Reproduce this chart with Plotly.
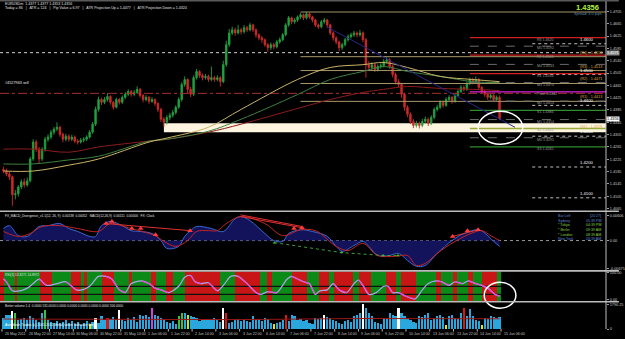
import plotly.graph_objects as go

# ======================= DATA =======================
# EURUSD, 2-hour bars starting 26 May 2011 06:00
opens = [1.4192,1.4187,1.4177,1.4168,1.4110,1.4113,1.4135,1.4152,1.4142,1.4155,
         1.4226,1.4281,1.4258,1.4226,1.4258,1.4290,1.4297,1.4313,1.4323,1.4329,
         1.4306,1.4290,1.4300,1.4290,1.4297,1.4284,1.4281,1.4287,1.4290,1.4297,
         1.4313,1.4339,1.4387,1.4419,1.4410,1.4419,1.4429,1.4410,1.4394,1.4419,
         1.4410,1.4426,1.4436,1.4445,1.4436,1.4442,1.4452,1.4432,1.4419,1.4426,
         1.4413,1.4419,1.4406,1.4387,1.4355,1.4345,1.4361,1.4368,1.4377,1.4394,
         1.4419,1.4468,1.4484,1.4452,1.4436,1.4490,1.4510,1.4497,1.4490,1.4494,
         1.4484,1.4490,1.4484,1.4490,1.4477,1.4532,1.4597,1.4635,1.4645,1.4635,
         1.4645,1.4639,1.4652,1.4645,1.4661,1.4645,1.4629,1.4619,1.4613,1.4597,
         1.4587,1.4597,1.4590,1.4606,1.4613,1.4629,1.4661,1.4684,1.4671,1.4677,
         1.4687,1.4694,1.4684,1.4697,1.4687,1.4677,1.4661,1.4655,1.4671,1.4677,
         1.4661,1.4635,1.4619,1.4606,1.4587,1.4597,1.4613,1.4623,1.4629,1.4635,
         1.4629,1.4635,1.4613,1.4532,1.4523,1.4532,1.4516,1.4526,1.4529,1.4542,
         1.4548,1.4526,1.4500,1.4477,1.4468,1.4436,1.4394,1.4371,1.4348,1.4335,
         1.4342,1.4335,1.4348,1.4355,1.4342,1.4361,1.4387,1.4394,1.4410,1.4400,
         1.4419,1.4426,1.4413,1.4432,1.4445,1.4458,1.4452,1.4471,1.4484,1.4477,
         1.4484,1.4458,1.4445,1.4436,1.4426,1.4432,1.4419,1.4426]
highs = [1.4201,1.4195,1.4185,1.4172,1.4125,1.4141,1.4160,1.4163,1.4166,1.4233,
         1.4290,1.4288,1.4265,1.4264,1.4298,1.4306,1.4320,1.4330,1.4345,1.4334,
         1.4312,1.4308,1.4306,1.4304,1.4302,1.4291,1.4294,1.4297,1.4303,1.4320,
         1.4346,1.4396,1.4428,1.4425,1.4427,1.4440,1.4433,1.4414,1.4425,1.4424,
         1.4432,1.4443,1.4452,1.4450,1.4450,1.4462,1.4456,1.4437,1.4433,1.4430,
         1.4427,1.4423,1.4410,1.4392,1.4362,1.4368,1.4376,1.4385,1.4400,1.4426,
         1.4475,1.4494,1.4488,1.4460,1.4497,1.4518,1.4514,1.4503,1.4502,1.4500,
         1.4526,1.4496,1.4498,1.4495,1.4545,1.4610,1.4648,1.4655,1.4652,1.4661,
         1.4652,1.4661,1.4658,1.4668,1.4665,1.4650,1.4634,1.4625,1.4617,1.4602,
         1.4604,1.4603,1.4612,1.4620,1.4635,1.4667,1.4690,1.4688,1.4683,1.4692,
         1.4700,1.4698,1.4703,1.4701,1.4691,1.4681,1.4666,1.4677,1.4684,1.4681,
         1.4665,1.4640,1.4624,1.4610,1.4603,1.4619,1.4630,1.4636,1.4642,1.4640,
         1.4645,1.4640,1.4618,1.4543,1.4540,1.4537,1.4533,1.4536,1.4550,1.4556,
         1.4553,1.4531,1.4506,1.4485,1.4473,1.4441,1.4400,1.4377,1.4355,1.4350,
         1.4348,1.4356,1.4364,1.4360,1.4368,1.4393,1.4402,1.4417,1.4415,1.4426,
         1.4433,1.4430,1.4438,1.4452,1.4466,1.4465,1.4478,1.4490,1.4490,1.4494,
         1.4489,1.4463,1.4450,1.4440,1.4438,1.4436,1.4432,1.4432]
lows = [1.4180,1.4170,1.4158,1.4074,1.4095,1.4104,1.4128,1.4133,1.4136,1.4150,
        1.4220,1.4249,1.4212,1.4219,1.4250,1.4282,1.4290,1.4305,1.4316,1.4298,
        1.4280,1.4283,1.4282,1.4284,1.4277,1.4273,1.4276,1.4280,1.4284,1.4292,
        1.4308,1.4333,1.4380,1.4401,1.4404,1.4412,1.4402,1.4386,1.4390,1.4403,
        1.4405,1.4420,1.4430,1.4428,1.4430,1.4437,1.4425,1.4410,1.4413,1.4405,
        1.4408,1.4398,1.4378,1.4346,1.4330,1.4338,1.4352,1.4360,1.4370,1.4389,
        1.4412,1.4460,1.4440,1.4427,1.4430,1.4484,1.4489,1.4481,1.4484,1.4476,
        1.4478,1.4476,1.4478,1.4461,1.4472,1.4525,1.4590,1.4628,1.4626,1.4630,
        1.4630,1.4633,1.4638,1.4640,1.4638,1.4620,1.4611,1.4603,1.4590,1.4574,
        1.4580,1.4582,1.4585,1.4600,1.4608,1.4624,1.4655,1.4664,1.4665,1.4671,
        1.4680,1.4677,1.4679,1.4681,1.4669,1.4654,1.4648,1.4650,1.4665,1.4652,
        1.4628,1.4610,1.4598,1.4576,1.4580,1.4591,1.4607,1.4617,1.4622,1.4621,
        1.4623,1.4605,1.4490,1.4512,1.4515,1.4508,1.4510,1.4519,1.4523,1.4536,
        1.4518,1.4491,1.4468,1.4459,1.4425,1.4383,1.4362,1.4339,1.4326,1.4328,
        1.4325,1.4329,1.4341,1.4333,1.4336,1.4355,1.4380,1.4388,1.4392,1.4395,
        1.4412,1.4405,1.4408,1.4427,1.4440,1.4445,1.4447,1.4465,1.4468,1.4472,
        1.4452,1.4438,1.4428,1.4418,1.4420,1.4411,1.4414,1.4352]
closes = [1.4187,1.4177,1.4168,1.4110,1.4113,1.4135,1.4152,1.4142,1.4155,1.4226,
          1.4281,1.4258,1.4226,1.4258,1.4290,1.4297,1.4313,1.4323,1.4329,1.4306,
          1.4290,1.4300,1.4290,1.4297,1.4284,1.4281,1.4287,1.4290,1.4297,1.4313,
          1.4339,1.4387,1.4419,1.4410,1.4419,1.4429,1.4410,1.4394,1.4419,1.4410,
          1.4426,1.4436,1.4445,1.4436,1.4442,1.4452,1.4432,1.4419,1.4426,1.4413,
          1.4419,1.4406,1.4387,1.4355,1.4345,1.4361,1.4368,1.4377,1.4394,1.4419,
          1.4468,1.4484,1.4452,1.4436,1.4490,1.4510,1.4497,1.4490,1.4494,1.4484,
          1.4490,1.4484,1.4490,1.4477,1.4532,1.4597,1.4635,1.4645,1.4635,1.4645,
          1.4639,1.4652,1.4645,1.4661,1.4645,1.4629,1.4619,1.4613,1.4597,1.4587,
          1.4597,1.4590,1.4606,1.4613,1.4629,1.4661,1.4684,1.4671,1.4677,1.4687,
          1.4694,1.4684,1.4697,1.4687,1.4677,1.4661,1.4655,1.4671,1.4677,1.4661,
          1.4635,1.4619,1.4606,1.4587,1.4597,1.4613,1.4623,1.4629,1.4635,1.4629,
          1.4635,1.4613,1.4532,1.4523,1.4532,1.4516,1.4526,1.4529,1.4542,1.4548,
          1.4526,1.4500,1.4477,1.4468,1.4436,1.4394,1.4371,1.4348,1.4335,1.4342,
          1.4335,1.4348,1.4355,1.4342,1.4361,1.4387,1.4394,1.4410,1.4400,1.4419,
          1.4426,1.4413,1.4432,1.4445,1.4458,1.4452,1.4471,1.4484,1.4477,1.4484,
          1.4458,1.4445,1.4436,1.4426,1.4432,1.4419,1.4426,1.4356]
bar_idx = list(range(len(closes)))

x_label_bars = [0,8,16,24,32,40,48,56,64,72,80,88,96,104,112,120,128,136,144,152,160,168]
x_labels = ["26 May 2011","26 May 22:00","27 May 14:00","30 May 06:00","30 May 22:00",
            "31 May 14:00","1 Jun 06:00","1 Jun 22:00","2 Jun 14:00","3 Jun 06:00",
            "3 Jun 22:00","6 Jun 14:00","7 Jun 06:00","7 Jun 22:00","8 Jun 14:00",
            "9 Jun 06:00","9 Jun 22:00","10 Jun 14:00","13 Jun 06:00","13 Jun 22:00",
            "14 Jun 14:00","15 Jun 06:00"]

price_ticks = [1.4705,1.4665,1.4625,1.4585,1.4545,1.4505,1.4465,1.4425,1.4385,
               1.4345,1.4305,1.4265,1.4225,1.4185,1.4145,1.4105,1.4065]

# moving averages
ma_bars = [0,10,22,32,49,55,69,80,99,110,121,128,136,147,158,167]
ma_gold = [1.4187,1.4187,1.4206,1.4226,1.4281,1.4294,1.4329,1.4387,1.4484,1.4523,1.4532,1.4539,1.4523,1.4494,1.4484,1.4477]
ma_green = [1.4210,1.4210,1.4223,1.4235,1.4284,1.4290,1.4316,1.4355,1.4435,1.4484,1.4510,1.4526,1.4510,1.4494,1.4477,1.4474]
ma_maroon = [1.4258,1.4258,1.4248,1.4265,1.4284,1.4290,1.4313,1.4339,1.4390,1.4419,1.4442,1.4452,1.4461,1.4455,1.4452,1.4448]

# pivot levels (daily)
pivot_names = ["R3","M5","R2","M4","R1","M3","Pivot","M2","S1","M1","S2","M0","S3"]
pivot_prices = [1.4620,1.4592,1.4563,1.4533,1.4503,1.4474,1.4444,1.4414,1.4384,1.4354,1.4325,1.4295,1.4265]
pivot_start_bar = 157

# S/R zone lines (tan)
zone_line_prices = [1.4703,1.4558,1.4513,1.4471,1.4413]
zone_line_names = ["","(R4)","(R3)","(R2)","(R1)"]
zone_start_bar = 100
sr_box_low, sr_box_high, sr_box_start = 1.4313, 1.4342, 54
sr_box_name = "(S1)"
sr_box_mid = 1.4329

round_levels = [1.4600,1.4500,1.4400,1.4300,1.4200,1.4100]
round_start_bar = 178

order_price = 1.4439
order_label = "#4527963 sell"
dotted_level = 1.4571
bid_price = 1.4356

trend_bars = [108.8,172.2]
trend_prices = [1.4655,1.4329]

circle_bars = [159.8,174.8]
circle_prices = [1.4274,1.4381]

# MACD
macd_bars = [0,2,5,8,12,15,19,22,25,29,31,33,36,40,43,46,50,53,55,59,61,63,65,70,74,78,80,83,88,91,
             94,96,100,104,109,112,114,118,121,123,126,130,133,136,139,142,146,151,155,160,163,165,167]
macd_vals = [0.0029,0.0036,0.0012,0.0010,0.0034,0.0036,0.0041,0.0029,0.0022,0.0010,
             0.0010,0.0036,0.0046,0.0036,0.0024,0.0022,0.0017,0.0000,-0.0019,-0.0014,
             0.0010,0.0024,0.0034,0.0029,0.0022,0.0053,0.0058,0.0048,0.0017,0.0000,
             -0.0002,0.0017,0.0026,0.0022,0.0010,-0.0014,-0.0026,-0.0012,-0.0002,-0.0014,
             -0.0036,-0.0036,-0.0031,-0.0048,-0.0062,-0.0060,-0.0031,0.0000,0.0017,0.0026,
             0.0012,-0.0002,-0.0014]
signal_bars = [0,5,9,13,19,25,32,36,43,51,54,58,62,65,69,72,75,80,88,94,
               100,105,112,116,121,126,132,136,139,142,146,152,158,161,164,167]
signal_vals = [0.0022,0.0010,0.0017,0.0034,0.0036,0.0029,0.0022,0.0041,0.0029,0.0012,
               -0.0002,-0.0014,0.0000,0.0022,0.0024,0.0024,0.0041,0.0058,0.0041,0.0012,
               0.0026,0.0024,-0.0014,-0.0024,-0.0007,-0.0036,-0.0038,-0.0036,-0.0060,-0.0055,
               -0.0031,-0.0002,0.0019,0.0024,0.0012,0.0000]
div_bars = [34.5,36.5,43.2,46.2,51.2,62.8,97.8,100.5,151.2,156.2,159.8]
div_vals = [0.0041,0.0046,0.0029,0.0029,0.0014,0.0024,0.0029,0.0031,0.0010,0.0024,0.0026]
div_lines = [([34.5,62.8],[0.0041,0.0024]),([79.8,100.5],[0.0058,0.0031]),
             ([79.8,100.5],[0.0062,0.0034]),([151.2,159.8],[0.0010,0.0026])]
bull_bars = [91.2,113.8,127.8,132.8]
bull_vals = [-0.0005,-0.0029,-0.0036,-0.0036]

clock_rows = [("Bar Left","[20:27]","blue"),("Sydney","05:39 PM","blue"),
              ("* Tokyo","04:39 PM","green"),("* Berlin","09:39 AM","green"),
              ("* London","08:39 AM","green"),("New York","03:39 AM","blue")]

# RSI(3)
rsi_bars = [0,1,3,5.5,8,10,12,14.5,18,21,24.5,26.5,29,32,34.5,36.5,39,41,43,46.5,
            49,51,53,55.5,59,61,63,64.5,66.5,69,72,74.5,76.5,79,82,85,86.5,89,92,95.5,
            97,99,101,103,105,106.5,109,111,113,115.5,118,119.5,121,123,125.5,128,129.5,131,133,135.5,
            138.5,141,143,145.5,147.5,150,152,154.5,156.5,159,161,163,165.5,167]
rsi_vals = [76.7,66.7,33.3,33.3,43.3,60,76.7,53.3,60,66.7,36.7,36.7,50,86.7,86.7,76.7,36.7,26.7,60,70,
            60,43.3,36.7,26.7,50,83.3,90,66.7,60,63.3,33.3,60,86.7,86.7,60,26.7,20,30,26.7,76.7,
            86.7,76.7,66.7,60,20,33.3,36.7,60,36.7,26.7,60,73.3,53.3,20,26.7,50,50,26.7,26.7,13.3,
            3.3,36.7,60,70,66.7,53.3,66.7,60,70,60,53.3,43.3,20,14]
rsi_levels = [50,20]
band_edges = [-1.2,0.2,3.8,4.5,12.2,16.5,22.8,26.2,27.2,28.2,33.2,37.2,42.2,43.2,49.8,51.2,54.8,57.2,61.2,
              72.8,77.8,86.2,88.8,90.5,97.2,102.2,106.2,109.5,111.2,117.8,119.8,123.8,128.8,132.2,133.8,
              138.8,145.5,147.2,151.2,152.8,156.5,158.2,161.2,166.2,167.5]
band_trend = ["down","up","down","up","down","up","down","up","down","up","down","up","down","up","down",
              "up","down","up","down","up","down","up","down","up","down","up","down","up","down","up",
              "down","up","down","up","down","up","down","up","down","up","down","up","down","up"]

# Better Volume
vols = [790,1000,1000,1290,1150,640,720,790,640,930,
        790,640,500,1150,1360,640,500,430,570,430,
        500,640,430,570,360,500,290,430,570,360,
        500,790,430,930,640,790,720,860,640,1360,
        640,570,790,640,860,500,1000,930,1000,860,
        1500,1000,930,790,640,500,430,570,360,930,
        1150,1150,1000,930,860,790,570,640,720,640,
        720,790,640,500,1500,1150,430,500,640,720,
        570,640,570,500,930,640,720,570,790,720,
        430,360,430,500,640,1000,570,1000,930,640,
        720,570,640,430,360,790,720,790,1000,860,
        790,640,570,430,360,570,640,500,930,1000,
        1150,1780,1500,1150,930,500,430,360,790,720,
        1150,1000,930,1500,1150,930,720,640,500,430,
        930,860,1000,1150,640,720,930,1000,860,290,
        930,1000,790,720,1150,1500,930,1430,930,640,
        570,300,790,720,930,860,790,860]
vol_flags = {3:"climax_down",4:"churn",14:"churn",29:"low",31:"climax_down",35:"climax_up",
             39:"climax_down",50:"climax_churn",59:"churn",60:"churn",62:"churn_lime",
             74:"climax_down",75:"climax_up",91:"low",95:"climax_up",108:"climax_down",
             121:"climax_down",133:"climax_down",149:"low",155:"climax_up",161:"low"}
vol_ma_bars = [0,40,80,120,167]
vol_ma_vals = [720,700,680,760,740]

# ======================= STYLE / LAYOUT =======================
W, H = 625, 339
PW = 612
PXB = 3.0
XR = [-3.5 / PXB, (PW - 3.5) / PXB]
FONT = "Liberation Sans"

def py(ypx):
    return 1 - ypx / H

def pxp(xpx):
    return xpx / PW

dom_main = [py(212), py(3)]
dom_macd = [py(272), py(214)]
dom_rsi = [py(303), py(273)]
dom_vol = [py(331), py(304)]
main_range = [1.405806, 1.473226]

C_UP = "#1fa23f"
C_DN = "#d02a2a"
vol_color_map = {"normal":"#2aa8de","climax_down":"#ffffff","climax_up":"#d81818",
                 "churn":"#3cbf3c","churn_lime":"#9cf03a","climax_churn":"#d040e0","low":"#e8e010"}
vol_colors = [vol_color_map[vol_flags.get(i, "normal")] for i in bar_idx]

fig = go.Figure()
skip = "skip"

# ---- main pane ----
for p, nm in zip(zone_line_prices, zone_line_names):
    fig.add_trace(go.Scatter(x=[zone_start_bar, XR[1]], y=[p, p], mode="lines",
                             line=dict(color="#a8976a", width=1), hoverinfo=skip))
for p in round_levels:
    fig.add_trace(go.Scatter(x=[round_start_bar, XR[1]], y=[p, p], mode="lines",
                             line=dict(color="#bdbdbd", width=1, dash="dot"), hoverinfo=skip))
for nm, p in zip(pivot_names, pivot_prices):
    if nm.startswith("M"):
        st = dict(color="#6a6a6a", width=1, dash="dash")
    elif nm.startswith("R"):
        st = dict(color="#d02020", width=1.3)
    elif nm == "Pivot":
        st = dict(color="#e020e0", width=1.3)
    elif nm == "S2":
        st = dict(color="#9aaa3a", width=1.3)
    else:
        st = dict(color="#2e8b2e", width=1.3)
    fig.add_trace(go.Scatter(x=[pivot_start_bar, XR[1]], y=[p, p], mode="lines", line=st, hoverinfo=skip))

fig.add_trace(go.Scatter(x=[XR[0], XR[1]], y=[order_price, order_price], mode="lines",
                         line=dict(color="#a83030", width=1, dash="dashdot"), hoverinfo=skip))
fig.add_trace(go.Scatter(x=[XR[0], XR[1]], y=[dotted_level, dotted_level], mode="lines",
                         line=dict(color="#d0d0d0", width=1, dash="dot"), hoverinfo=skip))

fig.add_trace(go.Scatter(x=ma_bars, y=ma_maroon, mode="lines",
                         line=dict(color="#8c1c1c", width=1, shape="spline"), hoverinfo=skip))
fig.add_trace(go.Scatter(x=ma_bars, y=ma_green, mode="lines",
                         line=dict(color="#3f7f3f", width=1, shape="spline"), hoverinfo=skip))
fig.add_trace(go.Scatter(x=ma_bars, y=ma_gold, mode="lines",
                         line=dict(color="#c9b467", width=1, shape="spline"), hoverinfo=skip))
fig.add_trace(go.Scatter(x=trend_bars, y=trend_prices, mode="lines",
                         line=dict(color="#25258a", width=1), hoverinfo=skip))

fig.add_trace(go.Candlestick(x=bar_idx, open=opens, high=highs, low=lows, close=closes,
                             increasing=dict(line=dict(color=C_UP, width=0.9), fillcolor=C_UP),
                             decreasing=dict(line=dict(color=C_DN, width=0.9), fillcolor=C_DN),
                             whiskerwidth=0, hoverinfo=skip))

# ---- MACD pane ----
fig.add_trace(go.Scatter(x=[XR[0], XR[1]], y=[0, 0], mode="lines", yaxis="y2",
                         line=dict(color="#9a9a9a", width=1, dash="dot"), hoverinfo=skip))
fig.add_trace(go.Scatter(x=macd_bars, y=macd_vals, mode="lines", yaxis="y2", fill="tozeroy",
                         fillcolor="#13135c", line=dict(color="#3a68d0", width=1, shape="spline"),
                         hoverinfo=skip))
fig.add_trace(go.Scatter(x=signal_bars, y=signal_vals, mode="lines", yaxis="y2",
                         line=dict(color="#c42424", width=1, shape="spline"), hoverinfo=skip))
for xs, ys in div_lines:
    fig.add_trace(go.Scatter(x=xs, y=ys, mode="lines", yaxis="y2",
                             line=dict(color="#e03030", width=1), hoverinfo=skip))
fig.add_trace(go.Scatter(x=bull_bars, y=bull_vals, mode="lines+markers", yaxis="y2",
                         line=dict(color="#3aa03a", width=1, dash="dot"),
                         marker=dict(color="#3ac03a", size=3, symbol="triangle-up"), hoverinfo=skip))
fig.add_trace(go.Scatter(x=div_bars, y=div_vals, mode="markers", yaxis="y2",
                         marker=dict(color="#ff3a3a", size=5, symbol="triangle-up"), hoverinfo=skip))

# ---- RSI pane ----
band_x = [(a + b) / 2 for a, b in zip(band_edges[:-1], band_edges[1:])]
band_w = [b - a for a, b in zip(band_edges[:-1], band_edges[1:])]
band_c = ["#c81616" if t == "down" else "#0c8a18" for t in band_trend]
fig.add_trace(go.Bar(x=band_x, y=[110] * len(band_x), base=-5, width=band_w, yaxis="y3",
                     marker=dict(color=band_c, line=dict(width=0)), hoverinfo=skip))
for lv in rsi_levels:
    fig.add_trace(go.Scatter(x=[XR[0], band_edges[-1]], y=[lv, lv], mode="lines", yaxis="y3",
                             line=dict(color="#101010", width=1.2), hoverinfo=skip))
fig.add_trace(go.Scatter(x=rsi_bars, y=rsi_vals, mode="lines", yaxis="y3",
                         line=dict(color="#a8a8e8", width=1.2, shape="spline", smoothing=0.8),
                         hoverinfo=skip))
fx, fy = [], []
for i in range(len(rsi_vals) - 1):
    if rsi_vals[i + 1] < rsi_vals[i]:
        fx += [rsi_bars[i], rsi_bars[i + 1], None]
        fy += [rsi_vals[i], rsi_vals[i + 1], None]
fig.add_trace(go.Scatter(x=fx, y=fy, mode="lines", yaxis="y3",
                         line=dict(color="#e448d8", width=1.2), hoverinfo=skip))

# ---- Volume pane ----
fig.add_trace(go.Bar(x=bar_idx, y=vols, width=0.75, yaxis="y4",
                     marker=dict(color=vol_colors, line=dict(width=0)), hoverinfo=skip))
fig.add_trace(go.Scatter(x=vol_ma_bars, y=vol_ma_vals, mode="lines", yaxis="y4",
                         line=dict(color="#9a1818", width=1), hoverinfo=skip))

# ======================= AXES =======================
tf = dict(family=FONT, size=3.8, color="#c8c8c8")
common_y = dict(side="right", anchor="x", showgrid=False, zeroline=False, showline=False,
                ticks="outside", ticklen=2, tickcolor="#a0a0a0", tickfont=tf, fixedrange=True)
fig.update_layout(
    width=W, height=H, margin=dict(l=0, r=W - PW, t=0, b=0),
    paper_bgcolor="#000000", plot_bgcolor="#000000", showlegend=False, bargap=0,
    xaxis=dict(range=XR, showgrid=False, zeroline=False, showticklabels=False, ticks="",
               rangeslider=dict(visible=False), showline=False),
    yaxis=dict(domain=dom_main, range=main_range, tickvals=price_ticks,
               ticktext=[f"{v:.4f}" for v in price_ticks], **common_y),
    yaxis2=dict(domain=dom_macd, range=[-0.0072, 0.00672], tickvals=[0.00606, 0, -0.00675],
                ticktext=["0.00606", "0.00", "-0.00675"], **common_y),
    yaxis3=dict(domain=dom_rsi, range=[-5, 105], tickvals=[100, 0],
                ticktext=["100.00", "0.00"], **common_y),
    yaxis4=dict(domain=dom_vol, range=[0, 1933], tickvals=[1790.25, 0],
                ticktext=["1790.25", "0"], **common_y),
)

# ======================= SHAPES =======================
shapes = []
shapes.append(dict(type="rect", xref="x", yref="y", x0=sr_box_start, x1=XR[1],
                   y0=sr_box_low, y1=sr_box_high, fillcolor="#fdf5df", line=dict(width=0), layer="below"))
shapes.append(dict(type="circle", xref="x", yref="y", x0=circle_bars[0], x1=circle_bars[1],
                   y0=circle_prices[0], y1=circle_prices[1], line=dict(color="#ffffff", width=1.5)))
shapes.append(dict(type="circle", xref="paper", yref="paper", x0=pxp(489), x1=pxp(521),
                   y0=py(310), y1=py(284), line=dict(color="#ffffff", width=1.5)))
for ypx in [212.5, 272.5, 303.5]:
    shapes.append(dict(type="line", xref="paper", yref="paper", x0=0, x1=W / PW, y0=py(ypx), y1=py(ypx),
                       line=dict(color="#bcbcbc", width=1.6)))
shapes.append(dict(type="line", xref="paper", yref="paper", x0=1, x1=1, y0=py(331), y1=py(0),
                   line=dict(color="#bcbcbc", width=1)))
shapes.append(dict(type="rect", xref="paper", yref="paper", x0=0, x1=W / PW, y0=py(1.5), y1=1,
                   fillcolor="#5a5a5a", line=dict(width=0)))
for b in x_label_bars:
    shapes.append(dict(type="line", xref="x", yref="paper", x0=b - 0.5, x1=b - 0.5,
                       y0=py(331), y1=py(333.5), line=dict(color="#bcbcbc", width=1)))
fig.update_layout(shapes=shapes)

# ======================= TEXT =======================
ann = []
def txt(text, x, y, size=3.6, color="#e0e0e0", xa="left", ya="middle", xref="paper", yref="paper", **kw):
    ann.append(dict(text=text, x=x, y=y, xref=xref, yref=yref, xanchor=xa, yanchor=ya,
                    showarrow=False, font=dict(family=FONT, size=size, color=color), **kw))

txt("EURUSDm  1.4377 1.4377 1.4353 1.4356", pxp(3), py(4))
txt("Today = 86   |   ATR = 124   |   Pip Value = 6.97   |   ATR Projection Up = 1.4477   |   ATR Projection Down = 1.4324",
    pxp(3), py(8.5))
txt("<b>" + f"{bid_price:.4f}" + "</b>", pxp(607), py(7.5), size=7.5, color="#b6f23a", xa="right")
txt("Spread: 3.0 pips", pxp(610), py(14), size=3.8, color="#5b8ca8", xa="right")
txt(order_label, pxp(3), order_price, size=3.8, color="#e8e8e8", yref="y", yshift=10)

for nm, p in zip(pivot_names, pivot_prices):
    txt(f"{nm} {p:.4f}", 178.8, p, size=3.6, color="#9a9a9a", xref="x", yref="y", yshift=-2)
for nm, p in zip(zone_line_names, zone_line_prices):
    if nm:
        txt(f"{nm} - {p:.4f}", pxp(610), p, size=3.8, color="#dba045", xa="right", ya="bottom",
            yref="y")
txt(f"{sr_box_name} - {sr_box_mid:.4f}", pxp(610), sr_box_mid, size=3.8, color="#dba045",
    xa="right", yref="y")
for p in round_levels:
    txt(f"{p:.4f}", 193.3, p, size=4.2, color="#ffffff", xref="x", yref="y", ya="bottom")

# price flags on axis
ann.append(dict(text=f"{bid_price:.4f}", x=1.0, y=bid_price, xref="paper", yref="y", xanchor="left",
                yanchor="middle", showarrow=False, bgcolor="#ffffff", borderpad=0,
                font=dict(family=FONT, size=3.8, color="#000000")))
ann.append(dict(text=f"{dotted_level:.4f}", x=1.0, y=dotted_level, xref="paper", yref="y", xanchor="left",
                yanchor="middle", showarrow=False, bgcolor="#8a8a8a", borderpad=0,
                font=dict(family=FONT, size=3.8, color="#ffffff")))

# sub-window titles
txt("FX_MACD_Divergence_v1.1(12, 26, 9)  0.00138  0.00052   MACD(12,26,9)  0.00111  0.00000   FX: Clock",
    pxp(3), py(217.5), size=3.2)
txt("RSI(3) 13.8271 14.8972", pxp(3), py(277), size=3.2)
txt("Better volume 1.4  0.0000 531.0000 0.0000 0.0000 0.0000 0.0000 0.0000 556.0000", pxp(3), py(307.5), size=3.2)
txt("Ave Mode Trades (c) 2005-2011 MetaQuotes Software Corp.", pxp(3), py(326.5), size=3.4, color="#ffffff")

for i, (a, b, c) in enumerate(clock_rows):
    col = "#5a86d8" if c == "blue" else "#86d040"
    y = py(217.5 + 4.6 * i)
    txt(a, pxp(562), y, size=3.6, color=col)
    txt(b, pxp(609), y, size=3.6, color=col, xa="right")

for b, lab in zip(x_label_bars, x_labels):
    txt(lab, b - 0.5, py(335.5), size=3.6, color="#c0c0c0", xref="x", xshift=1)

fig.update_layout(annotations=ann)
fig.write_html("out.html")
